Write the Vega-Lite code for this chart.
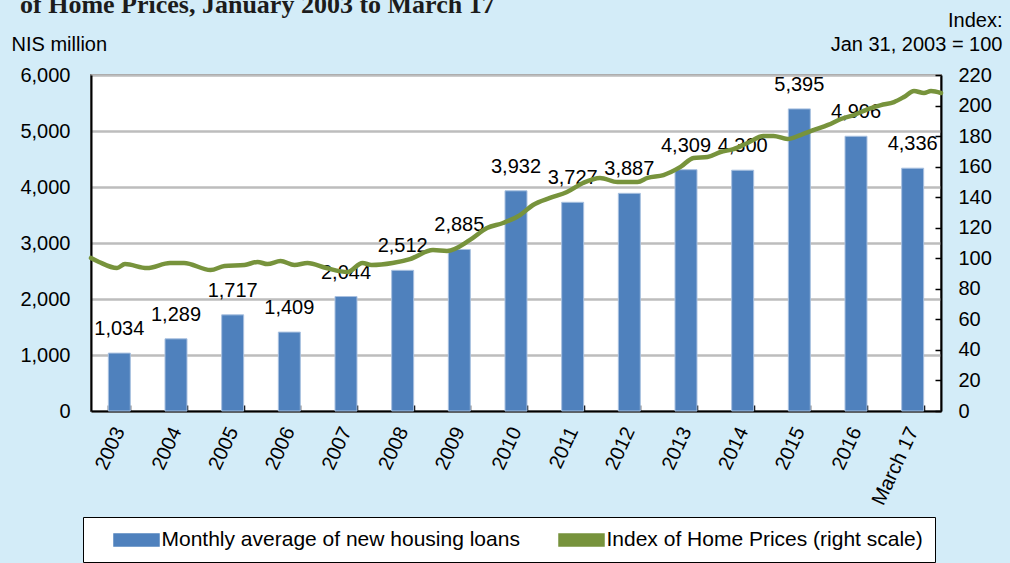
{
  "$schema": "https://vega.github.io/schema/vega-lite/v6.json",
  "width": 850,
  "height": 336,
  "autosize": {"type": "none"},
  "padding": {"left": 91, "top": 75, "right": 69, "bottom": 152},
  "background": "#d3ecf8",
  "config": {
    "font": "Liberation Sans",
    "view": {"fill": "#ffffff", "stroke": "#7f7f7f", "strokeWidth": 2},
    "axis": {
      "labelFont": "Liberation Sans",
      "labelFontSize": 20,
      "labelColor": "#000000",
      "titleFont": "Liberation Sans",
      "titleFontSize": 20,
      "titleFontWeight": "normal",
      "titleColor": "#000000",
      "domainColor": "#000000",
      "domainWidth": 2,
      "tickColor": "#000000",
      "tickWidth": 1.5
    }
  },
  "title": {
    "text": "of Home Prices, January 2003 to March 17",
    "anchor": "start",
    "frame": "group",
    "dx": -71,
    "dy": 29,
    "offset": 0,
    "font": "Liberation Serif",
    "fontSize": 26,
    "fontWeight": "bold",
    "color": "#1c1c1c",
    "baseline": "alphabetic"
  },
  "layer": [
    {
      "data": {
        "values": [
          {"period": "2003", "loans": 1034},
          {"period": "2004", "loans": 1289},
          {"period": "2005", "loans": 1717},
          {"period": "2006", "loans": 1409},
          {"period": "2007", "loans": 2044},
          {"period": "2008", "loans": 2512},
          {"period": "2009", "loans": 2885},
          {"period": "2010", "loans": 3932},
          {"period": "2011", "loans": 3727},
          {"period": "2012", "loans": 3887},
          {"period": "2013", "loans": 4309},
          {"period": "2014", "loans": 4300},
          {"period": "2015", "loans": 5395},
          {"period": "2016", "loans": 4906},
          {"period": "March 17", "loans": 4336}
        ]
      },
      "layer": [
        {
          "mark": {"type": "bar", "fill": "#4f81bd", "stroke": "#a9c1e0", "strokeWidth": 1},
          "encoding": {
            "x": {
              "field": "period",
              "type": "ordinal",
              "sort": null,
              "scale": {"paddingInner": 0.612, "paddingOuter": 0.306},
              "axis": {
                "title": null,
                "labelAngle": -65,
                "labelAlign": "right",
                "labelBaseline": "middle",
                "labelPadding": 23,
                "tickBand": "extent",
                "tickSize": -6,
                "grid": false
              }
            },
            "y": {
              "field": "loans",
              "type": "quantitative",
              "scale": {"domain": [0, 6000], "nice": false},
              "axis": {
                "values": [0, 1000, 2000, 3000, 4000, 5000, 6000],
                "format": ",.0f",
                "title": "NIS million",
                "titleAngle": 0,
                "titleAlign": "left",
                "titleBaseline": "alphabetic",
                "titleX": -80,
                "titleY": -25,
                "labelPadding": 21,
                "ticks": false,
                "grid": true,
                "gridColor": "#bdbdbd",
                "gridWidth": 2.5
              }
            },
            "color": {
              "datum": "Monthly average of new housing loans",
              "type": "nominal",
              "scale": {
                "domain": ["Monthly average of new housing loans", "Index of Home Prices (right scale)"],
                "range": ["#4f81bd", "#77933c"]
              },
              "legend": {
                "orient": "none",
                "legendX": -8,
                "legendY": 442,
                "direction": "horizontal",
                "title": null,
                "fillColor": "#ffffff",
                "strokeColor": "#000000",
                "padding": 12,
                "labelFont": "Liberation Sans",
                "labelFontSize": 21,
                "labelColor": "#000000",
                "labelLimit": 600,
                "labelOffset": 14,
                "symbolOffset": 30.5,
                "columnPadding": 20,
                "symbolSize": 400,
                "symbolType": "M-2.25,-0.6H2.25V0.6H-2.25Z",
                "encode": {
                  "symbols": {
                    "update": {
                      "shape": [
                        {"test": "datum.value === 'Index of Home Prices (right scale)'", "value": "M-2.5,-0.13H2.5V0.13H-2.5Z"},
                        {"value": "M-2.25,-0.6H2.25V0.6H-2.25Z"}
                      ],
                      "fill": {"scale": "color", "field": "value"},
                      "stroke": {"value": "transparent"},
                      "strokeWidth": {"value": 0},
                      "opacity": {"value": 1}
                    }
                  }
                }
              }
            }
          }
        },
        {
          "mark": {"type": "text", "baseline": "alphabetic", "dy": -18, "fontSize": 20, "font": "Liberation Sans", "color": "#000000"},
          "encoding": {
            "x": {"field": "period", "type": "ordinal", "sort": null},
            "y": {"field": "loans", "type": "quantitative"},
            "text": {"field": "loans", "type": "quantitative", "format": ",.0f"}
          }
        }
      ]
    },
    {
      "data": {
        "values": [
          {"month": 0, "index": 100.2}, {"month": 1.6, "index": 97.6}, {"month": 5.2, "index": 93.6},
          {"month": 6.8, "index": 96.2}, {"month": 11.2, "index": 93.6}, {"month": 15.8, "index": 96.9},
          {"month": 18.6, "index": 96.9}, {"month": 23.9, "index": 92.3}, {"month": 26.7, "index": 94.9},
          {"month": 30.7, "index": 95.6}, {"month": 33.3, "index": 97.6}, {"month": 35.3, "index": 96.2},
          {"month": 37.9, "index": 98.2}, {"month": 40.7, "index": 95.6}, {"month": 43.3, "index": 96.9},
          {"month": 47.1, "index": 93.6}, {"month": 51.3, "index": 91.0}, {"month": 54.3, "index": 96.9},
          {"month": 56.1, "index": 95.6}, {"month": 60.3, "index": 96.9}, {"month": 63.8, "index": 99.5},
          {"month": 68.4, "index": 105.4}, {"month": 71.2, "index": 104.8}, {"month": 75.8, "index": 112.0},
          {"month": 79.2, "index": 119.8}, {"month": 82.4, "index": 123.1}, {"month": 85.8, "index": 128.3},
          {"month": 88.4, "index": 134.9}, {"month": 91.8, "index": 139.5}, {"month": 95.2, "index": 143.4},
          {"month": 98.4, "index": 149.3}, {"month": 101.8, "index": 152.6}, {"month": 105.3, "index": 149.9},
          {"month": 109.3, "index": 149.9}, {"month": 111.3, "index": 152.6}, {"month": 114.5, "index": 154.5},
          {"month": 117.9, "index": 159.8}, {"month": 120.5, "index": 165.7}, {"month": 123.3, "index": 166.3},
          {"month": 125.9, "index": 169.6}, {"month": 128.5, "index": 171.5}, {"month": 131.3, "index": 175.5},
          {"month": 134.5, "index": 180.1}, {"month": 136.5, "index": 180.1}, {"month": 139.3, "index": 178.1},
          {"month": 141.9, "index": 180.7}, {"month": 144.6, "index": 184.0}, {"month": 147.4, "index": 187.3},
          {"month": 150.0, "index": 191.2}, {"month": 152.6, "index": 193.8}, {"month": 155.4, "index": 197.7},
          {"month": 158.0, "index": 200.3}, {"month": 160.6, "index": 202.3}, {"month": 162.6, "index": 205.6},
          {"month": 164.6, "index": 209.5}, {"month": 166.6, "index": 208.2}, {"month": 168.0, "index": 209.5},
          {"month": 170.0, "index": 208.2}
        ]
      },
      "mark": {"type": "line", "stroke": "#77933c", "strokeWidth": 4.5, "interpolate": "monotone", "strokeCap": "round"},
      "encoding": {
        "x": {
          "field": "month",
          "type": "quantitative",
          "scale": {"domain": [0, 170], "nice": false, "zero": false},
          "axis": null
        },
        "y": {
          "field": "index",
          "type": "quantitative",
          "scale": {"domain": [0, 220], "nice": false},
          "axis": {
            "orient": "right",
            "values": [0, 20, 40, 60, 80, 100, 120, 140, 160, 180, 200, 220],
            "title": ["Index:", "Jan 31, 2003 = 100"],
            "titleAngle": 0,
            "titleAlign": "right",
            "titleBaseline": "alphabetic",
            "titleX": 61,
            "titleY": -49,
            "titleLineHeight": 24,
            "labelPadding": 23,
            "tickSize": -6,
            "grid": false
          }
        },
        "color": {"datum": "Index of Home Prices (right scale)", "type": "nominal"}
      }
    }
  ],
  "resolve": {"scale": {"x": "independent", "y": "independent"}}
}
